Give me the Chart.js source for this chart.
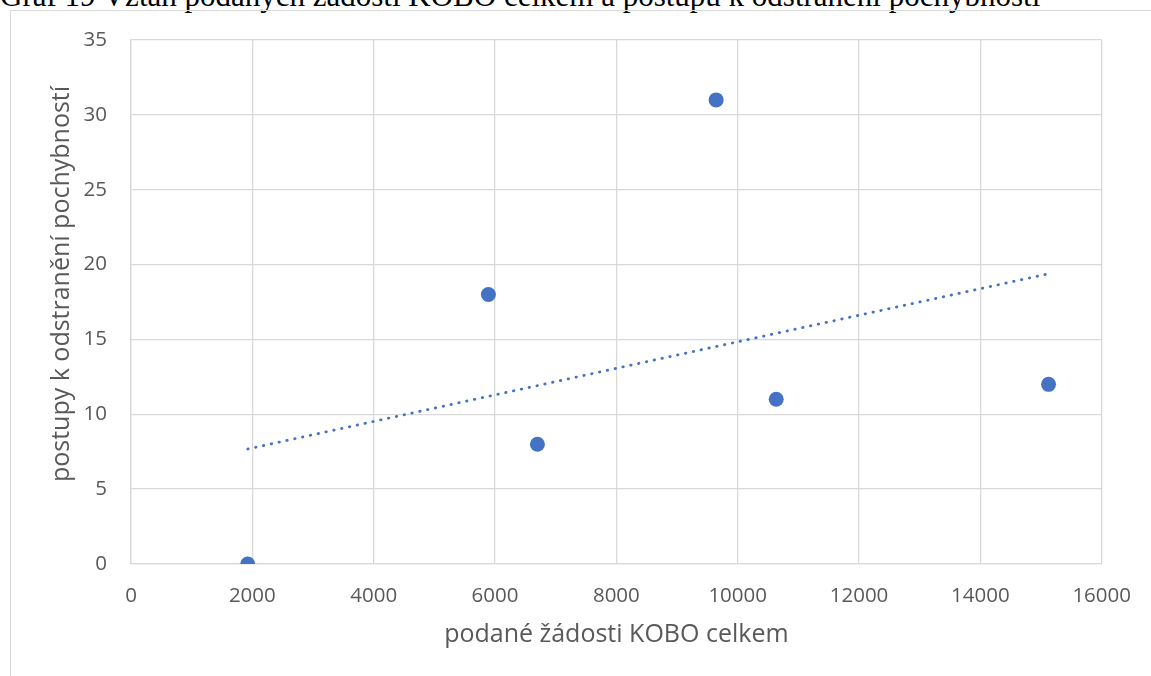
<!DOCTYPE html>
<html>
<head>
<meta charset="utf-8">
<script src="https://cdn.jsdelivr.net/npm/chart.js@4.4.1/dist/chart.umd.min.js"></script>
<style>
  html, body { margin: 0; padding: 0; background: #ffffff; overflow: hidden; }
  body { width: 1151px; height: 676px; position: relative; }
  #title {
    position: absolute; left: 0px; top: -20px; white-space: nowrap;
    font-family: "Liberation Serif", "Times New Roman", serif; font-size: 31px; line-height: 31px;
    color: #000000;
  }
  #frame {
    position: absolute; left: 10px; top: 10px; width: 2000px; height: 2000px;
    border: 1px solid #d9d9d9; box-sizing: border-box;
  }
  #wrap { position: absolute; left: 0; top: 0; width: 1151px; height: 676px; }
</style>
</head>
<body>
<div id="title">Graf 19 Vztah podaných žádostí KOBO celkem a postupů k odstranění pochybností</div>
<div id="frame"></div>
<div id="wrap"><canvas id="c" width="1151" height="676"></canvas></div>
<script>
// ---- data ----
const xValues = [1924, 5891, 6699, 9645, 10635, 15124];   // podané žádosti KOBO celkem
const yValues = [0, 18, 8, 31, 11, 12];                    // postupy k odstranění pochybností
const trendX = [1924, 15108];                              // linear trendline endpoints (read)
const trendY = [7.68, 19.37];
const xTicks = [0, 2000, 4000, 6000, 8000, 10000, 12000, 14000, 16000];
const yTicks = [0, 5, 10, 15, 20, 25, 30, 35];
const xTitle = 'podané žádosti KOBO celkem';
const yTitle = 'postupy k odstranění pochybností';

const points = xValues.map((x, i) => ({ x: x, y: yValues[i] }));
const trend = trendX.map((x, i) => ({ x: x, y: trendY[i] }));

const FONT = '"Open Sans", "Noto Sans", sans-serif';
const GRID = '#d9d9d9';
const TXT = '#595959';
const BLUE = '#4472C4';

new Chart(document.getElementById('c'), {
  type: 'scatter',
  data: {
    datasets: [
      {
        label: 'trend',
        type: 'line',
        data: trend,
        borderColor: BLUE,
        borderWidth: 2.8,
        borderDash: [0.5, 7.5],
        borderCapStyle: 'round',
        pointRadius: 0,
        fill: false,
        tension: 0,
        order: 2
      },
      {
        label: 'data',
        data: points,
        backgroundColor: BLUE,
        borderColor: BLUE,
        borderWidth: 0,
        pointRadius: 7.5,
        pointHoverRadius: 7.5,
        order: 1
      }
    ]
  },
  options: {
    responsive: false,
    animation: false,
    events: [],
    layout: { padding: { top: 40, right: 48, left: 0, bottom: 0 } },
    plugins: { legend: { display: false }, tooltip: { enabled: false }, title: { display: false } },
    scales: {
      x: {
        type: 'linear',
        min: xTicks[0],
        max: xTicks[xTicks.length - 1],
        afterBuildTicks: (s) => { s.ticks = xTicks.map(v => ({ value: v })); },
        afterFit: (s) => { s.height = 112; },
        grid: { color: GRID, lineWidth: 1.3, drawTicks: false },
        border: { color: GRID, width: 1.3 },
        ticks: { color: TXT, font: { family: FONT, size: 20.5 }, padding: 20, maxRotation: 0,
                 callback: (v) => String(v) },
        title: { display: true, text: xTitle, color: TXT, font: { family: FONT, size: 25 }, padding: { top: 0, bottom: 26 } }
      },
      y: {
        type: 'linear',
        min: yTicks[0],
        max: yTicks[yTicks.length - 1],
        afterBuildTicks: (s) => { s.ticks = yTicks.map(v => ({ value: v })); },
        afterFit: (s) => {
          s.width = 131;
          if (!s._titleShifted) {
            const orig = s.drawTitle;
            s.drawTitle = function () {
              const ctx = this.ctx;
              ctx.save();
              ctx.translate(0, -18);
              orig.call(this);
              ctx.restore();
            };
            s._titleShifted = true;
          }
        },
        grid: { color: GRID, lineWidth: 1.3, drawTicks: false },
        border: { color: GRID, width: 1.3 },
        ticks: { color: TXT, font: { family: FONT, size: 20.5 }, padding: 24, callback: (v) => String(v) },
        title: { display: true, text: yTitle, color: TXT, font: { family: FONT, size: 25 }, padding: { top: 47, bottom: 0 } }
      }
    }
  }
});
</script>
</body>
</html>
